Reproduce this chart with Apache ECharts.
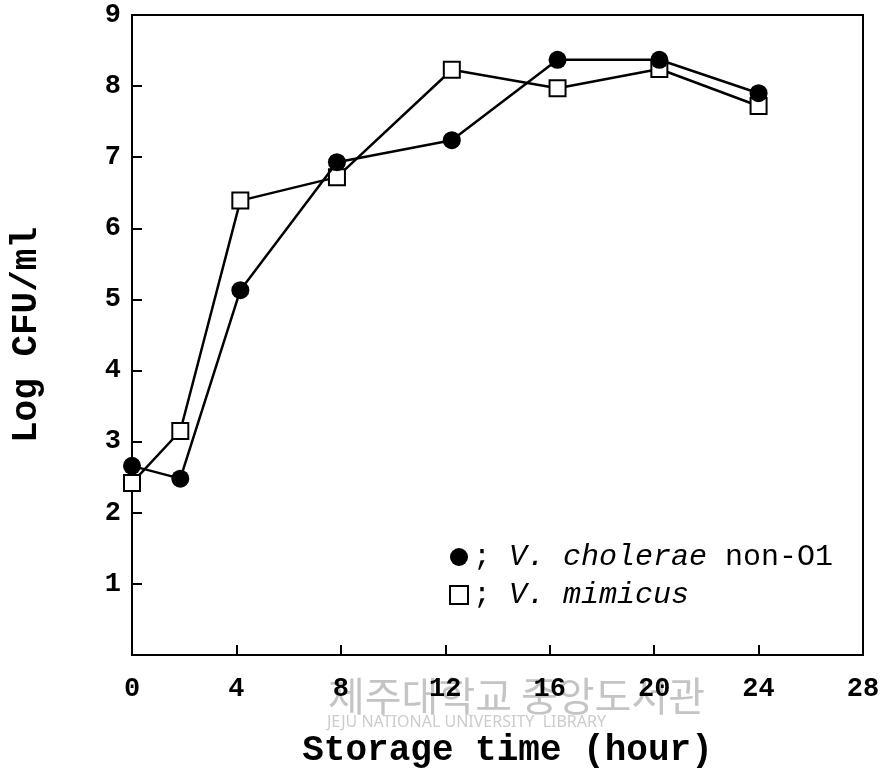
<!DOCTYPE html>
<html>
<head>
<meta charset="utf-8">
<script src="https://cdn.jsdelivr.net/npm/echarts@6/dist/echarts.min.js"></script>
<style>html,body{margin:0;padding:0;background:#fff}#c{width:888px;height:783px}</style>
</head>
<body>
<div id="c"></div>
<script>
var hours = [0, 1.85, 4.15, 7.85, 12.25, 16.3, 20.2, 24];
var cholerae = [2.66, 2.48, 5.13, 6.93, 7.24, 8.37, 8.37, 7.9];
var mimicus = [2.42, 3.15, 6.39, 6.72, 8.23, 7.97, 8.24, 7.72];
var xTicks = [0, 4, 8, 12, 16, 20, 24, 28];
var yTicks = [1, 2, 3, 4, 5, 6, 7, 8, 9];

function pairs(xs, ys) { return xs.map(function (x, i) { return [x, ys[i]]; }); }

var mono = "'Liberation Mono', 'DejaVu Sans Mono', monospace";
var chart = echarts.init(document.getElementById('c'));
chart.setOption({
  animation: false,
  backgroundColor: '#fff',
  grid: { left: 132, right: 25, top: 15, bottom: 128, outerBoundsMode: 'none', containLabel: false,
    show: true, borderColor: '#000', borderWidth: 2, backgroundColor: 'transparent' },
  xAxis: {
    type: 'value', min: 0, max: 28, interval: 4,
    name: 'Storage time (hour)', nameLocation: 'middle', nameGap: 78,
    nameTextStyle: { fontFamily: mono, fontWeight: 'bold', fontSize: 36, color: '#000', padding: [0, 0, 0, 20] },
    axisLine: { show: true, lineStyle: { color: '#000', width: 2 } },
    axisTick: { show: true, inside: true, length: 10, lineStyle: { color: '#000', width: 2 } },
    axisLabel: { fontFamily: mono, fontWeight: 'bold', fontSize: 27, color: '#000', margin: 21,
      formatter: function (v) { return xTicks.indexOf(v) >= 0 ? String(v) : ''; } },
    splitLine: { show: false }
  },
  yAxis: {
    type: 'value', min: 0, max: 9, interval: 1,
    name: 'Log CFU/ml', nameLocation: 'middle', nameGap: 87,
    nameTextStyle: { fontFamily: mono, fontWeight: 'bold', fontSize: 36, color: '#000' },
    axisLine: { show: true, lineStyle: { color: '#000', width: 2 } },
    axisTick: { show: true, inside: true, length: 10, lineStyle: { color: '#000', width: 2 } },
    axisLabel: { fontFamily: mono, fontWeight: 'bold', fontSize: 27, color: '#000', margin: 11,
      formatter: function (v) { return yTicks.indexOf(v) >= 0 ? String(v) : ''; } },
    splitLine: { show: false }
  },
  legend: {
    orient: 'vertical', left: 444, top: 537, itemWidth: 18, itemHeight: 18, itemGap: 8,
    data: [{ name: 'V. cholerae non-O1', icon: 'circle' }, { name: 'V. mimicus', icon: 'rect' }],
    formatter: function (n) {
      if (n === 'V. cholerae non-O1') return '; {i|V. cholerae} non-O1';
      return '; {i|V. mimicus}';
    },
    textStyle: { fontFamily: mono, fontSize: 30, color: '#000',
      rich: { i: { fontFamily: mono, fontSize: 30, fontStyle: 'italic', color: '#000' } } }
  },
  graphic: [
    { type: 'text', left: 328, top: 676, z: -1, style: { text: '제주대학교 중앙도서관', font: "40px 'Noto Sans CJK KR'", fill: '#c4c4c4' } },
    { type: 'text', left: 327, top: 714, z: -1, style: { text: 'JEJU NATIONAL UNIVERSITY  LIBRARY', font: "16px 'Noto Sans'", fill: '#cccccc' } }
  ],
  series: [
    { name: 'V. mimicus', type: 'line', data: pairs(hours, mimicus), symbol: 'rect', symbolSize: 16,
      lineStyle: { color: '#000', width: 2.5 }, itemStyle: { color: '#fff', borderColor: '#000', borderWidth: 2 }, z: 2 },
    { name: 'V. cholerae non-O1', type: 'line', data: pairs(hours, cholerae), symbol: 'circle', symbolSize: 18,
      lineStyle: { color: '#000', width: 2.5 }, itemStyle: { color: '#000', borderColor: '#000', borderWidth: 0 }, z: 3 }
  ]
});
</script>
</body>
</html>
